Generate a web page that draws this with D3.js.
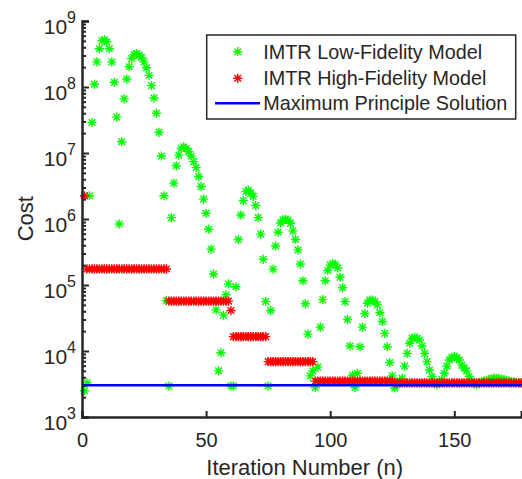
<!DOCTYPE html>
<html><head><meta charset="utf-8">
<script src="https://cdn.jsdelivr.net/npm/d3@7"></script>
<style>body{margin:0;background:#fff}svg{display:block}text{font-family:"Liberation Sans",Arial,Helvetica,sans-serif;fill:#262626}</style>
</head><body>
<svg id="c" width="522" height="479"></svg>
<script>
// ---- data ----
const xTicks = [0, 50, 100, 150];
const yTicks = [1e3, 1e4, 1e5, 1e6, 1e7, 1e8, 1e9];
const seriesNames = ["IMTR Low-Fidelity Model", "IMTR High-Fidelity Model", "Maximum Principle Solution"];
const xLabel = "Iteration Number (n)";
const yLabel = "Cost";
const xMax = 177;
const maxPrinciple = 3020;
// low-fidelity cost, iterations 1..177
const lowFidelity = [
 2.5e3,3.3e3,2.25e6,2.9e7,1.1e8,2.4e8,3.8e8,5.0e8,5.2e8,4.85e8,
 3.8e8,2.4e8,1.18e8,3.5e7,8.4e5,1.48e7,6.6e7,1.32e8,2.03e8,2.7e8,
 3.1e8,3.2e8,3.05e8,2.8e8,2.4e8,1.96e8,1.5e8,1.05e8,6.8e7,4.0e7,
 2.06e7,9.0e6,2.25e6,5.8e4,2.95e3,1.05e6,3.5e6,6.4e6,9.3e6,1.17e7,
 1.24e7,1.17e7,1.05e7,9.0e6,7.4e6,6.0e6,4.4e6,3.1e6,2.0e6,1.22e6,
 7.0e5,3.5e5,1.47e5,4.2e4,5.0e3,9.4e3,3.5e4,7.1e4,1.04e5,2.95e3,
 2.95e3,9.4e4,4.9e5,1.15e6,1.9e6,2.6e6,2.75e6,2.45e6,2.2e6,1.6e6,
 1.05e6,5.9e5,2.45e5,5.6e4,2.95e3,4.1e4,1.74e5,3.9e5,6.3e5,8.7e5,
 9.7e5,9.9e5,9.6e5,8.6e5,6.6e5,4.9e5,3.4e5,2.08e5,1.16e5,5.2e4,
 1.8e4,4.2e3,5.0e3,2.8e3,5.7e3,2.3e4,6.0e4,1.16e5,1.66e5,2.0e5,
 2.1e5,2.08e5,1.81e5,1.31e5,9.1e4,5.6e4,3.0e4,1.19e4,4.3e3,2.8e3,
 4.6e3,1.16e4,2.3e4,3.7e4,5.3e4,5.9e4,5.9e4,5.6e4,5.0e4,3.8e4,
 2.8e4,1.85e4,1.16e4,6.7e3,4.2e3,2.75e3,3.2e3,3.5e3,3.85e3,5.9e3,
 9.2e3,1.31e4,1.56e4,1.61e4,1.55e4,1.47e4,1.19e4,9.2e3,6.9e3,5.15e3,
 4.1e3,3.4e3,3.1e3,3.3e3,3.7e3,4.6e3,5.9e3,7.3e3,8.0e3,8.2e3,
 8.0e3,7.3e3,6.1e3,5.5e3,5.0e3,4.1e3,3.5e3,3.2e3,3.1e3,3.3e3,
 3.4e3,3.5e3,3.6e3,3.7e3,3.8e3,3.85e3,3.85e3,3.8e3,3.75e3,3.7e3,
 3.6e3,3.5e3,3.45e3,3.4e3,3.35e3,3.3e3,3.3e3
];
// high-fidelity cost, iterations 1..177
const highFidelity = [
 2.25e6,
 1.75e5,1.75e5,1.75e5,1.75e5,1.75e5,1.75e5,1.75e5,1.75e5,1.75e5,1.75e5,
 1.75e5,1.75e5,1.75e5,1.75e5,1.75e5,1.75e5,1.75e5,1.75e5,1.75e5,1.75e5,
 1.75e5,1.75e5,1.75e5,1.75e5,1.75e5,1.75e5,1.75e5,1.75e5,1.75e5,1.75e5,
 1.75e5,1.75e5,1.75e5,
 5.7e4,5.7e4,5.7e4,5.7e4,5.7e4,5.7e4,5.7e4,5.7e4,5.7e4,5.7e4,
 5.7e4,5.7e4,5.7e4,5.7e4,5.7e4,5.7e4,5.7e4,5.7e4,5.7e4,5.7e4,
 5.7e4,5.7e4,5.7e4,5.7e4,5.7e4,
 4.1e4,
 1.65e4,1.65e4,1.65e4,1.65e4,1.65e4,1.65e4,1.65e4,1.65e4,1.65e4,1.65e4,
 1.65e4,1.65e4,1.65e4,1.65e4,
 6.9e3,6.9e3,6.9e3,6.9e3,6.9e3,6.9e3,6.9e3,6.9e3,6.9e3,6.9e3,
 6.9e3,6.9e3,6.9e3,6.9e3,6.9e3,6.9e3,6.9e3,6.9e3,6.9e3,
 3.5e3,3.5e3,3.5e3,3.5e3,3.5e3,3.5e3,3.5e3,3.5e3,3.5e3,3.5e3,
 3.5e3,3.5e3,3.5e3,3.5e3,3.5e3,3.5e3,3.5e3,3.5e3,3.5e3,3.5e3,
 3.5e3,3.5e3,3.5e3,3.5e3,3.5e3,3.5e3,3.5e3,3.5e3,3.5e3,3.5e3,
 3.5e3,3.5e3,
 3.3e3,3.3e3,3.3e3,3.3e3,3.3e3,3.3e3,3.3e3,3.3e3,3.3e3,3.3e3,
 3.3e3,3.3e3,3.3e3,3.3e3,3.3e3,3.3e3,3.3e3,3.3e3,3.3e3,3.3e3,
 3.3e3,3.3e3,3.3e3,3.3e3,3.3e3,3.3e3,3.3e3,3.3e3,3.3e3,3.3e3,
 3.3e3,3.3e3,3.3e3,3.3e3,3.3e3,3.3e3,3.3e3,3.3e3,3.3e3,3.3e3,
 3.3e3,3.3e3,3.3e3,3.3e3,3.3e3,3.3e3,3.3e3,3.3e3,3.3e3,3.3e3,
 3.3e3,3.3e3
];
const colors = ["#00ff00", "#ff0000", "#0000ff"];

// ---- chart ----
const svg = d3.select("#c");
const axisColor = "#262626";
const x = d3.scaleLinear().domain([0, xMax]).range([82, 521.3]);
const y = d3.scaleLog().domain([1e3, 1e9]).range([417, 21]);

const R = 4.6;
const starPath = `M${-R},0L${R},0M0,${-R}L0,${R}M${-R*0.72},${-R*0.72}L${R*0.72},${R*0.72}M${-R*0.72},${R*0.72}L${R*0.72},${-R*0.72}`;

const plot = svg.append("g");
function drawStars(data, color) {
  plot.append("g").selectAll("path").data(data).join("path")
    .attr("d", starPath)
    .attr("transform", (d, i) => `translate(${x(i + 1)},${y(d)})`)
    .attr("stroke", color).attr("stroke-width", 1.4).attr("fill", "none");
}
drawStars(lowFidelity, colors[0]);
drawStars(highFidelity, colors[1]);
plot.append("line")
  .attr("x1", x(0)).attr("x2", x(xMax))
  .attr("y1", y(maxPrinciple)).attr("y2", y(maxPrinciple))
  .attr("stroke", colors[2]).attr("stroke-width", 2.5);

// axes
const xAxis = d3.axisBottom(x).tickValues(xTicks).tickSize(-6).tickPadding(12).tickFormat(d3.format("d"));
const gx = svg.append("g").attr("transform", `translate(0,${y(1e3)})`).call(xAxis);
gx.select(".domain").attr("stroke", axisColor).attr("stroke-width", 2.5);
gx.selectAll(".tick line").attr("stroke", axisColor).attr("stroke-width", 2);
gx.selectAll(".tick text").attr("font-size", 20).attr("fill", axisColor).attr("dy", null).attr("y", 0).attr("dominant-baseline", null)
  .attr("transform", "translate(0,29.7)");

const minor = [];
for (let e = 3; e < 9; e++) for (let m = 2; m <= 9; m++) minor.push(m * Math.pow(10, e));
const yMinorAxis = d3.axisLeft(y).tickValues(minor).tickSize(-4).tickFormat("");
const gym = svg.append("g").attr("transform", `translate(${x(0)},0)`).call(yMinorAxis);
gym.select(".domain").remove();
gym.selectAll(".tick line").attr("stroke", axisColor).attr("stroke-width", 2);

const yAxis = d3.axisLeft(y).tickValues(yTicks).tickSize(-7).tickFormat("");
const gy = svg.append("g").attr("transform", `translate(${x(0)},0)`).call(yAxis);
gy.select(".domain").attr("stroke", axisColor).attr("stroke-width", 2.5);
gy.selectAll(".tick line").attr("stroke", axisColor).attr("stroke-width", 2);
gy.selectAll(".tick").each(function(d) {
  const t = d3.select(this).append("text").attr("x", -6).attr("y", 0).attr("dy", 12)
    .attr("text-anchor", "end").attr("font-size", 21).attr("fill", axisColor);
  t.append("tspan").text("10");
  t.append("tspan").attr("dy", -11).attr("font-size", 16).text(Math.round(Math.log10(d)));
});

// axis labels
svg.append("text").attr("x", 304.7).attr("y", 475).attr("text-anchor", "middle").attr("font-size", 22).text(xLabel);
svg.append("text").attr("transform", "translate(32.5,218.7) rotate(-90)").attr("text-anchor", "middle").attr("font-size", 22).text(yLabel);

// legend
const lg = svg.append("g");
lg.append("rect").attr("x", 206.7).attr("y", 35).attr("width", 309).attr("height", 84)
  .attr("fill", "#fff").attr("stroke", axisColor).attr("stroke-width", 1.5);
const rows = [51.7, 78.3, 103.3];
seriesNames.forEach((name, i) => {
  if (i < 2) {
    lg.append("path").attr("d", starPath).attr("transform", `translate(237.7,${rows[i]})`)
      .attr("stroke", colors[i]).attr("stroke-width", 1.4).attr("fill", "none");
  } else {
    lg.append("line").attr("x1", 215).attr("x2", 260).attr("y1", rows[i]).attr("y2", rows[i])
      .attr("stroke", colors[i]).attr("stroke-width", 2.5);
  }
  lg.append("text").attr("x", 263.3).attr("y", rows[i]).attr("dy", 7).attr("font-size", 19.8).text(name);
});
</script>
</body></html>
